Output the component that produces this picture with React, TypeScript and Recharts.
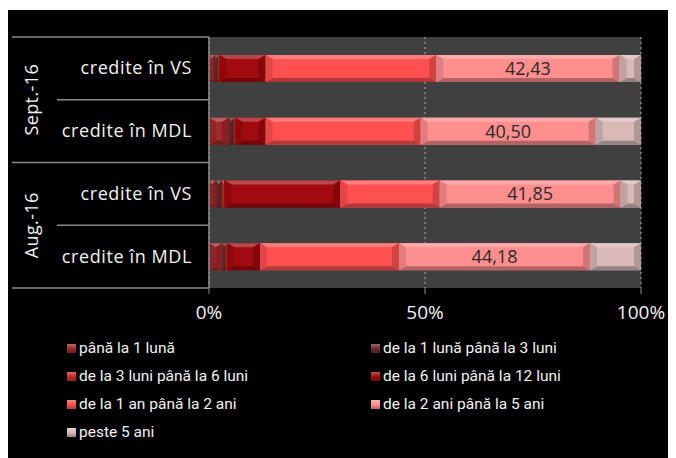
import React from "react";
import { BarChart, Bar, XAxis, YAxis, CartesianGrid, Legend, LabelList } from "recharts";

// rows, top to bottom
const periods = ["Sept.-16", "Sept.-16", "Aug.-16", "Aug.-16"];
const categories = ["credite în VS", "credite în MDL", "credite în VS", "credite în MDL"];

// maturity shares, % of total
const upTo1m = [1.2, 4.6, 1.5, 3.1];
const m1to3 = [0.9, 1.2, 1.5, 0.8];
const m3to6 = [0.3, 0.3, 0.6, 0.3];
const m6to12 = [10.7, 7.0, 26.8, 7.6];
const y1to2 = [39.5, 35.9, 23.0, 32.2];
const y2to5 = [42.43, 40.5, 41.85, 44.18];
const over5 = [4.97, 10.5, 4.75, 11.82];

const seriesNames = [
  "până la 1 lună",
  "de la 1 lună până la 3 luni",
  "de la 3 luni până la 6 luni",
  "de la 6 luni până la 12 luni",
  "de la 1 an până la 2 ani",
  "de la 2 ani până la 5 ani",
  "peste 5 ani",
];
const seriesValues = [upTo1m, m1to3, m3to6, m6to12, y1to2, y2to5, over5];
const colors = ["#a3292b", "#6e2b2b", "#c9282c", "#a10a0e", "#ff5050", "#ff8e8e", "#d9b8b8"];

const xTicks = [0, 50, 100];

const data = categories.map((c, i) => {
  const row: Record<string, any> = { key: `${periods[i]}|${c}` };
  seriesValues.forEach((vals, s) => (row[`s${s}`] = vals[i]));
  return row;
});

const W = 668;
const H = 448;
const MARGIN = { top: 27, right: 34, left: 0, bottom: 0 };
const LEGEND_H = 124;
const XAXIS_H = 46;
const PLOT_H = H - MARGIN.top - MARGIN.bottom - LEGEND_H - XAXIS_H;
const BAND = PLOT_H / categories.length;
const FONT = "'Open Sans', sans-serif";

const shade = (hex: string, amt: number) => {
  const n = parseInt(hex.slice(1), 16);
  const ch = [(n >> 16) & 255, (n >> 8) & 255, n & 255].map((v) =>
    Math.round(amt >= 0 ? v + (255 - v) * amt : v * (1 + amt))
  );
  return `rgb(${ch.join(",")})`;
};

const Bevel = (props: any) => {
  const { x, y, width: w, height: h, fill } = props;
  if (!w || w <= 0) return null;
  const t = Math.min(4, h / 2);
  const s = Math.min(7, w / 2);
  return (
    <g>
      <rect x={x} y={y} width={w} height={h} fill={fill} />
      <polygon points={`${x},${y} ${x + w},${y} ${x + w - s},${y + t} ${x + s},${y + t}`} fill={shade(fill, 0.25)} />
      <polygon points={`${x},${y + h} ${x + w},${y + h} ${x + w - s},${y + h - t} ${x + s},${y + h - t}`} fill={shade(fill, -0.3)} />
      <polygon points={`${x},${y} ${x + s},${y + t} ${x + s},${y + h - t} ${x},${y + h}`} fill={shade(fill, -0.12)} />
      <polygon points={`${x + w},${y} ${x + w - s},${y + t} ${x + w - s},${y + h - t} ${x + w},${y + h}`} fill={shade(fill, -0.18)} />
    </g>
  );
};

const YTick = (props: any) => {
  const { y, index } = props;
  const top = y - BAND / 2;
  const first = index === 0 || periods[index] !== periods[index - 1];
  const last = index === periods.length - 1;
  const groupSize = periods.filter((p) => p === periods[index]).length;
  const gy = top + (groupSize * BAND) / 2;
  return (
    <g>
      <line x1={first ? 5 : 50} x2={202} y1={top} y2={top} stroke="#8a8a8a" strokeWidth={1.5} />
      {last && <line x1={5} x2={202} y1={top + BAND} y2={top + BAND} stroke="#8a8a8a" strokeWidth={1.5} />}
      <text
        x={185}
        y={y}
        dy={6}
        textAnchor="end"
        fill="#f2f2f2"
        fontSize={18}
        letterSpacing={0.6}
        fontFamily={FONT}
      >
        {categories[index]}
      </text>
      {first && (
        <text
          x={25}
          y={gy}
          transform={`rotate(-90 25 ${gy})`}
          textAnchor="middle"
          dy={6}
          fill="#f2f2f2"
          fontSize={18}
          letterSpacing={0.4}
          fontFamily={FONT}
        >
          {periods[index]}
        </text>
      )}
    </g>
  );
};

const XTick = (props: any) => {
  const { x, y, payload } = props;
  return (
    <text x={x} y={y + 23} textAnchor="middle" fill="#f2f2f2" fontSize={19} fontFamily={FONT}>
      {`${payload.value}%`}
    </text>
  );
};

const LegendContent = () => (
  <div style={{ position: "relative", width: W, height: LEGEND_H }}>
    {seriesNames.map((name, i) => (
      <div
        key={name}
        style={{
          position: "absolute",
          left: i % 2 === 0 ? 60 : 364,
          top: Math.floor(i / 2) * 28,
          height: 28,
          display: "flex",
          alignItems: "center",
          color: "#f2f2f2",
          fontSize: 15.5,
          fontFamily: "'Liberation Sans Narrow', 'Roboto', sans-serif",
          whiteSpace: "nowrap",
        }}
      >
        <span
          style={{
            display: "inline-block",
            width: 9,
            height: 9,
            marginRight: 3,
            background: `linear-gradient(${shade(colors[i], 0.3)}, ${colors[i]} 50%, ${shade(colors[i], -0.3)})`,
          }}
        />
        {name}
      </div>
    ))}
  </div>
);

export default function App() {
  return (
    <div style={{ marginTop: 2, marginLeft: -1, width: W, height: H, background: "#000" }}>
      <BarChart width={W} height={H} data={data} layout="vertical" margin={MARGIN} barSize={27}>
        <CartesianGrid horizontal={false} fill="#404040" stroke="#b0b0b0" strokeDasharray="2 3" />
        <XAxis
          type="number"
          domain={[0, 100]}
          ticks={xTicks}
          height={XAXIS_H}
          axisLine={false}
          tickLine={{ stroke: "#8a8a8a" }}
          tickSize={6}
          tick={<XTick />}
        />
        <YAxis
          type="category"
          dataKey="key"
          width={202}
          axisLine={{ stroke: "#8a8a8a", strokeWidth: 1.5 }}
          tickLine={false}
          tick={<YTick />}
          interval={0}
        />
        <Legend
          verticalAlign="bottom"
          content={<LegendContent />}
          wrapperStyle={{ left: 0, bottom: 0, width: W, height: LEGEND_H }}
        />
        {seriesNames.map((name, s) => (
          <Bar
            key={name}
            dataKey={`s${s}`}
            name={name}
            stackId="a"
            fill={colors[s]}
            shape={<Bevel />}
            isAnimationActive={false}
          >
            {s === 5 && (
              <LabelList
                dataKey={`s${s}`}
                position="center"
                formatter={(v: any) => Number(v).toFixed(2).replace(".", ",")}
                fill="#2a2a2a"
                fontSize={18}
                fontFamily={FONT}
              />
            )}
          </Bar>
        ))}
      </BarChart>
    </div>
  );
}
